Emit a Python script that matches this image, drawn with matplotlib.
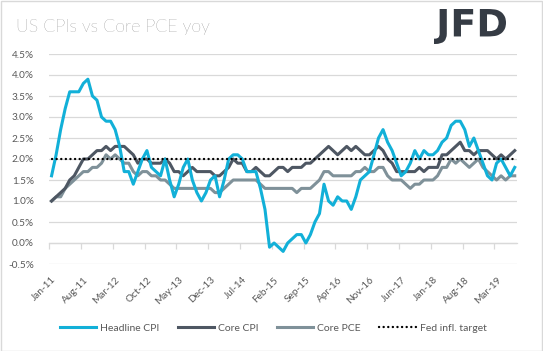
import matplotlib
matplotlib.use("Agg")
import matplotlib.pyplot as plt
import numpy as np
import pandas as pd
from matplotlib.patches import Rectangle, PathPatch
from matplotlib.textpath import TextPath
from matplotlib.font_manager import FontProperties
from matplotlib.transforms import Affine2D, IdentityTransform

plt.rcParams['font.family'] = ['Lato', 'DejaVu Sans']

# ---- data (monthly, Jan-2011 .. Jul-2019) ----
months = pd.date_range("2011-01-01", "2019-07-01", freq="MS")

headline_cpi = [
    1.6, 2.1, 2.7, 3.2, 3.6, 3.6, 3.6, 3.8, 3.9, 3.5, 3.4, 3.0,
    2.9, 2.9, 2.7, 2.3, 1.7, 1.7, 1.4, 1.7, 2.0, 2.2, 1.8, 1.7,
    1.6, 2.0, 1.5, 1.1, 1.4, 1.8, 2.0, 1.5, 1.2, 1.0, 1.2, 1.5,
    1.6, 1.1, 1.5, 2.0, 2.1, 2.1, 2.0, 1.7, 1.7, 1.7, 1.3, 0.8,
    -0.1, 0.0, -0.1, -0.2, 0.0, 0.1, 0.2, 0.2, 0.0, 0.2, 0.5, 0.7,
    1.4, 1.0, 0.9, 1.1, 1.0, 1.0, 0.8, 1.1, 1.5, 1.6, 1.7, 2.1,
    2.5, 2.7, 2.4, 2.2, 1.9, 1.6, 1.7, 1.9, 2.2, 2.0, 2.2, 2.1,
    2.1, 2.2, 2.4, 2.5, 2.8, 2.9, 2.9, 2.7, 2.3, 2.5, 2.2, 1.9,
    1.6, 1.5, 1.9, 2.0, 1.8, 1.6, 1.8,
]

core_cpi = [
    1.0, 1.1, 1.2, 1.3, 1.5, 1.6, 1.8, 2.0, 2.0, 2.1, 2.2, 2.2,
    2.3, 2.2, 2.3, 2.3, 2.3, 2.2, 2.1, 1.9, 2.0, 2.0, 1.9, 1.9,
    1.9, 2.0, 1.9, 1.7, 1.7, 1.6, 1.7, 1.8, 1.7, 1.7, 1.7, 1.7,
    1.6, 1.6, 1.7, 1.8, 2.0, 1.9, 1.9, 1.7, 1.7, 1.8, 1.7, 1.6,
    1.6, 1.7, 1.8, 1.8, 1.7, 1.8, 1.8, 1.8, 1.9, 1.9, 2.0, 2.1,
    2.2, 2.3, 2.2, 2.1, 2.2, 2.3, 2.2, 2.3, 2.2, 2.1, 2.1, 2.2,
    2.3, 2.2, 2.0, 1.9, 1.7, 1.7, 1.7, 1.7, 1.7, 1.8, 1.7, 1.8,
    1.8, 1.8, 2.1, 2.1, 2.2, 2.3, 2.4, 2.2, 2.2, 2.1, 2.2, 2.2,
    2.2, 2.1, 2.0, 2.1, 2.0, 2.1, 2.2,
]

core_pce = [
    1.0, 1.1, 1.1, 1.3, 1.4, 1.5, 1.6, 1.7, 1.7, 1.8, 1.8, 1.9,
    2.1, 2.0, 2.1, 2.0, 1.9, 1.9, 1.7, 1.6, 1.7, 1.7, 1.6, 1.6,
    1.5, 1.5, 1.4, 1.3, 1.3, 1.3, 1.3, 1.3, 1.3, 1.3, 1.3, 1.3,
    1.2, 1.2, 1.3, 1.4, 1.5, 1.5, 1.5, 1.5, 1.5, 1.5, 1.4, 1.3,
    1.3, 1.3, 1.3, 1.3, 1.3, 1.3, 1.2, 1.3, 1.3, 1.3, 1.4, 1.5,
    1.7, 1.7, 1.6, 1.6, 1.6, 1.6, 1.6, 1.7, 1.7, 1.8, 1.7, 1.7,
    1.8, 1.8, 1.6, 1.5, 1.5, 1.5, 1.4, 1.3, 1.4, 1.4, 1.5, 1.5,
    1.5, 1.6, 1.8, 1.8, 2.0, 1.9, 2.0, 1.9, 1.8, 1.9, 2.0, 1.8,
    1.7, 1.6, 1.5, 1.6, 1.5, 1.6, 1.6,
]

fed_target = 2.0

series_names = ["Headline CPI", "Core CPI", "Core PCE", "Fed infl. target"]
tick_labels = [d.strftime("%b-%y") for d in months[::7]]
y_ticks = np.arange(-0.5, 4.51, 0.5)

# ---- figure ----
W, H, DPI = 543, 351, 100
fig = plt.figure(figsize=(W / DPI, H / DPI), dpi=DPI)
fig.patch.set_facecolor("white")

left_px, right_px, top_px, bot_px = 49.3, 517, 54, 264
ax = fig.add_axes([left_px / W, 1 - bot_px / H, (right_px - left_px) / W, (bot_px - top_px) / H])

x = np.arange(len(months))
c_head, c_core, c_pce = "#12B0D8", "#4E5763", "#7F9199"
grid_c = "#D9D9D9"
txt_c = "#595959"

ax.plot(x, core_pce, color=c_pce, lw=2.2, solid_joinstyle="round", label=series_names[2], zorder=3)
ax.plot(x, core_cpi, color=c_core, lw=2.2, solid_joinstyle="round", label=series_names[1], zorder=4)
ax.plot(x, headline_cpi, color=c_head, lw=2.2, solid_joinstyle="round", label=series_names[0], zorder=5)
ax.plot(x, np.full(len(x), fed_target), color="black", lw=1.7, linestyle=(0, (0.05, 1.9)),
        dash_capstyle="round", label=series_names[3], zorder=6)

ymin, ymax = -0.5, 4.5
ax.set_ylim(ymin, ymax)
ax.set_xlim(-0.5, len(x) - 0.5)
ax.set_yticks(y_ticks)
ax.set_yticklabels([f"{v:.1f}%" for v in y_ticks])
ax.yaxis.grid(True, color=grid_c, lw=0.9)
ax.set_axisbelow(True)
for s in ax.spines.values():
    s.set_visible(False)
ax.tick_params(axis="y", length=0, pad=11, labelsize=7.2, labelcolor=txt_c)

ax.set_xticks(x[::7])
ax.set_xticklabels(tick_labels, rotation=45, ha="right", va="top", rotation_mode="anchor")
ax.tick_params(axis="x", length=0, pad=8, labelsize=7.2, labelcolor=txt_c)

# horizontal axis crossing at 0 with tick marks between categories
sec = ax.secondary_xaxis((0 - ymin) / (ymax - ymin))
sec.set_xticks(np.arange(-0.5, len(x), 7))
sec.tick_params(axis="x", length=4, width=0.9, color=grid_c, labelbottom=False)
sec.spines["bottom"].set_color(grid_c)
sec.spines["bottom"].set_linewidth(0.9)

# title
fig.text(16 / W, 1 - 27 / H, "US CPIs vs Core PCE yoy", fontsize=12.8, color=txt_c,
         fontweight="light", ha="left", va="center")

# logo: "JFD" squeezed into its box (pixel coords, top-left origin)
logo_box = (434, 9, 506, 44)  # x0, y_top, x1, y_bottom
tp = TextPath((0, 0), "JFD", size=50, prop=FontProperties(family="DejaVu Sans", weight="bold"))
ext = tp.get_extents()
sx = (logo_box[2] - logo_box[0]) / ext.width
sy = (logo_box[3] - logo_box[1]) / ext.height
tr = Affine2D().translate(-ext.x0, -ext.y0).scale(sx, sy).translate(logo_box[0], H - logo_box[3])
fig.patches.append(PathPatch(tr.transform_path(tp), transform=IdentityTransform(),
                             fc="#353B44", ec="none"))

# legend
handles, labels = ax.get_legend_handles_labels()
order = [2, 1, 0, 3]
fig.legend([handles[i] for i in order], [labels[i] for i in order], loc="center",
           bbox_to_anchor=(273 / W, 1 - 328 / H), ncol=4, frameon=False, fontsize=7.5,
           handlelength=3.5, handletextpad=0.35, columnspacing=1.8, labelcolor=txt_c)

# outer border
fig.patches.append(Rectangle((0.5 / W, 0.5 / H), 1 - 1.5 / W, 1 - 1.5 / H, transform=fig.transFigure,
                             fill=False, ec="#D9D9D9", lw=1))

fig.savefig("out.png", dpi=DPI)
